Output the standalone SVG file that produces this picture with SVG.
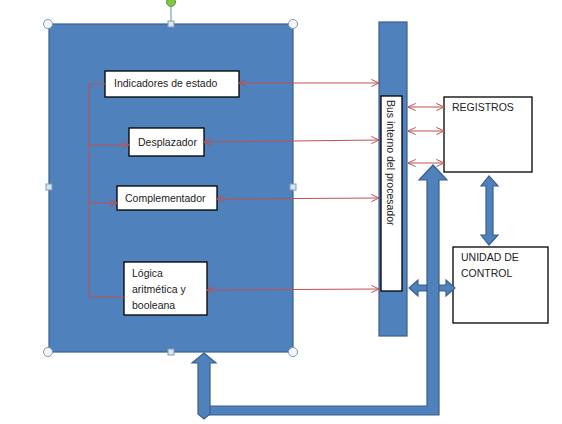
<svg xmlns="http://www.w3.org/2000/svg" width="562" height="424" viewBox="0 0 562 424">
<defs>
<style>
.blue{fill:#4F81BD;stroke:#3A5F8C;stroke-width:1.2}
.box{fill:#fff;stroke:#000;stroke-width:1.3}
.t{font-family:"Liberation Sans",Arial,sans-serif;font-size:10.5px;fill:#222}
.red{stroke:#C0504D;stroke-width:1;fill:none}
.h{fill:#f2f6fb;stroke:#8499b0;stroke-width:1}
.hs{fill:#d6e4f3;stroke:#8499b0;stroke-width:1}
</style>
<marker id="ah" viewBox="0 0 10 10" refX="9.5" refY="5" markerWidth="9" markerHeight="9" orient="auto-start-reverse" markerUnits="userSpaceOnUse">
<path d="M1,1 L9.5,5 L1,9" fill="none" stroke="#C0504D" stroke-width="1.1"/>
</marker>
</defs>
<rect width="562" height="424" fill="#fff"/>

<g id="alu">
<rect class="blue" x="49" y="24" width="244" height="328"/>
</g>

<g id="bus">
<rect class="blue" x="379" y="22" width="28" height="314"/>
<rect class="box" x="381" y="96" width="21" height="195"/>
<text class="t" transform="translate(387,100) rotate(90)">Bus interno del procesador</text>
</g>

<g id="indicadores">
<rect class="box" x="105" y="71" width="134" height="26"/>
<text class="t" x="114" y="87">Indicadores de estado</text>
</g>
<g id="desplazador">
<rect class="box" x="129" y="128" width="75" height="28"/>
<text class="t" x="138" y="146">Desplazador</text>
</g>
<g id="complementador">
<rect class="box" x="117" y="186" width="100" height="24"/>
<text class="t" x="125" y="202">Complementador</text>
</g>
<g id="logica">
<rect class="box" x="124" y="262" width="83" height="53"/>
<text class="t" x="132" y="277">Lógica</text>
<text class="t" x="132" y="293">aritmética y</text>
<text class="t" x="132" y="309">booleana</text>
</g>

<g id="registros">
<rect class="box" x="444" y="97" width="88" height="75"/>
<text class="t" x="452" y="111">REGISTROS</text>
</g>
<g id="unidad">
<rect class="box" x="453" y="247" width="95" height="76"/>
<text class="t" x="461" y="261">UNIDAD DE</text>
<text class="t" x="461" y="277">CONTROL</text>
</g>

<g id="connectors">
<!-- left internal distribution -->
<path class="red" d="M105,84 H89 V297 H124"/>
<line class="red" x1="89" y1="145" x2="129" y2="145" marker-end="url(#ah)"/>
<line class="red" x1="89" y1="203" x2="117" y2="203" marker-end="url(#ah)"/>
<!-- to bus -->
<line class="red" x1="239" y1="83" x2="379" y2="83" marker-start="url(#ah)" marker-end="url(#ah)"/>
<line class="red" x1="204" y1="142" x2="379" y2="140" marker-start="url(#ah)" marker-end="url(#ah)"/>
<line class="red" x1="217" y1="199" x2="379" y2="198" marker-start="url(#ah)" marker-end="url(#ah)"/>
<line class="red" x1="207" y1="290" x2="379" y2="289" marker-start="url(#ah)" marker-end="url(#ah)"/>
<!-- bus to registros -->
<line class="red" x1="408" y1="107" x2="444" y2="107" marker-start="url(#ah)" marker-end="url(#ah)"/>
<line class="red" x1="408" y1="131" x2="444" y2="131" marker-start="url(#ah)" marker-end="url(#ah)"/>
<line class="red" x1="408" y1="163" x2="444" y2="163" marker-start="url(#ah)" marker-end="url(#ah)"/>
<!-- block arrows -->
<polygon class="blue" points="481,186 486,186 486,235 481,235 489,245 498,235 493,235 493,186 498,186 489,176"/>
<polygon class="blue" points="409,288 418,280 418,285 446,285 446,280 455,288 446,296 446,291 418,291 418,296"/>
<polygon class="blue" points="208,406 427,406 427,180 419,180 433,165 447,180 439,180 439,415 208,415"/>
<polygon class="blue" points="204,353 216,363 210,363 210,414 204,419 198,414 198,363 192,363"/>
</g>

<g id="handles">
<line x1="171" y1="6" x2="171" y2="21" stroke="#8499b0" stroke-width="1.2"/>
<circle cx="171" cy="2" r="4.5" fill="#7fc54a" stroke="#5c9a30"/>
<circle class="h" cx="48" cy="24" r="4.5"/>
<circle class="h" cx="293" cy="24" r="4.5"/>
<circle class="h" cx="48" cy="352" r="4.5"/>
<circle class="h" cx="293" cy="352" r="4.5"/>
<rect class="hs" x="168" y="21" width="6" height="6"/>
<rect class="hs" x="168" y="349" width="6" height="6"/>
<rect class="hs" x="46" y="184" width="6" height="6"/>
<rect class="hs" x="290" y="184" width="6" height="6"/>
</g>
</svg>
